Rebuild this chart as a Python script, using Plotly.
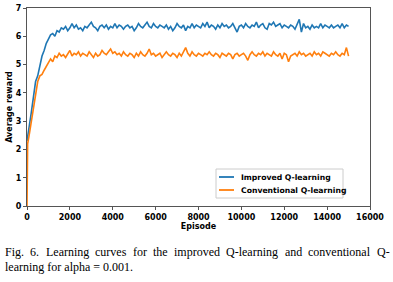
import plotly.graph_objects as go

episodes = [0, 30] + list(range(100, 15001, 100))

improved = [2.3, 2.5, 2.8, 3.3, 3.9, 4.4, 4.6, 5.0, 5.3, 5.5, 5.75, 5.9,
            6.05, 6.1, 6.0, 6.2, 6.15, 6.3, 6.25, 6.35, 6.2, 6.3,
            6.45, 6.3, 6.4, 6.25, 6.3, 6.2, 6.35, 6.3, 6.4, 6.5,
            6.35, 6.3, 6.2, 6.35, 6.4, 6.3, 6.4, 6.25, 6.35, 6.3,
            6.45, 6.3, 6.4, 6.35, 6.25, 6.35, 6.4, 6.3, 6.35, 6.2,
            6.3, 6.45, 6.35, 6.3, 6.4, 6.5, 6.35, 6.3, 6.45, 6.35,
            6.3, 6.4, 6.35, 6.3, 6.4, 6.25, 6.35, 6.2, 6.3, 6.45,
            6.35, 6.3, 6.4, 6.2, 6.35, 6.3, 6.45, 6.3, 6.4, 6.35,
            6.3, 6.45, 6.35, 6.5, 6.3, 6.4, 6.35, 6.25, 6.4, 6.3,
            6.45, 6.35, 6.4, 6.3, 6.35, 6.45, 6.3, 6.15, 6.35, 6.4,
            6.3, 6.45, 6.35, 6.3, 6.4, 6.35, 6.5, 6.3, 6.4, 6.45,
            6.3, 6.25, 6.45, 6.4, 6.5, 6.35, 6.4, 6.45, 6.3, 6.4,
            6.35, 6.3, 6.4, 6.35, 6.25, 6.45, 6.6, 6.15, 6.45, 6.3,
            6.35, 6.25, 6.4, 6.3, 6.35, 6.3, 6.45, 6.3, 6.4, 6.35,
            6.3, 6.4, 6.3, 6.35, 6.4, 6.3, 6.45, 6.3, 6.4, 6.35]

conventional = [0.0, 2.2, 2.5, 3.0, 3.5, 3.9, 4.4, 4.6, 4.65, 4.8, 4.95, 5.05,
                5.2, 5.1, 5.3, 5.25, 5.4, 5.3, 5.35, 5.25, 5.4, 5.5,
                5.3, 5.4, 5.35, 5.45, 5.3, 5.4, 5.35, 5.3, 5.45, 5.35,
                5.25, 5.4, 5.3, 5.35, 5.5, 5.4, 5.35, 5.45, 5.55, 5.4,
                5.45, 5.35, 5.4, 5.3, 5.45, 5.35, 5.3, 5.4, 5.35, 5.25,
                5.4, 5.3, 5.45, 5.35, 5.3, 5.4, 5.55, 5.35, 5.4, 5.3,
                5.35, 5.4, 5.25, 5.35, 5.45, 5.35, 5.3, 5.4, 5.35, 5.25,
                5.4, 5.3, 5.45, 5.6, 5.4, 5.3, 5.45, 5.35, 5.3, 5.4,
                5.35, 5.3, 5.4, 5.35, 5.45, 5.35, 5.3, 5.4, 5.35, 5.25,
                5.4, 5.35, 5.3, 5.4, 5.35, 5.2, 5.35, 5.4, 5.3, 5.35,
                5.4, 5.3, 5.15, 5.35, 5.45, 5.35, 5.3, 5.4, 5.35, 5.45,
                5.3, 5.4, 5.35, 5.3, 5.45, 5.35, 5.3, 5.4, 5.2, 5.4,
                5.35, 5.1, 5.3, 5.35, 5.4, 5.3, 5.45, 5.35, 5.4, 5.3,
                5.35, 5.4, 5.3, 5.45, 5.35, 5.4, 5.3, 5.45, 5.4, 5.35,
                5.3, 5.4, 5.35, 5.45, 5.35, 5.3, 5.4, 5.35, 5.6, 5.3, 5.4]

series_names = ["Improved Q-learning", "Conventional Q-learning"]
series_colors = ["#1f77b4", "#ff7f0e"]

x_ticks = [0, 2000, 4000, 6000, 8000, 10000, 12000, 14000, 16000]
y_ticks = [0, 1, 2, 3, 4, 5, 6, 7]

caption_line1 = ["Fig.", "6.", "Learning", "curves", "for", "the", "improved",
                 "Q-learning", "and", "conventional", "Q-"]
caption_line2 = "learning for alpha = 0.001."

W, H = 393, 282
L, R, T, B = 27, 23, 8, 76
pw = W - L - R
ph = H - T - B


def px_x(px):
    return (px - L) / pw


def px_y(py):
    return (H - B - py) / ph


fig = go.Figure()
for name, ys, col in zip(series_names, [improved, conventional], series_colors):
    fig.add_trace(go.Scatter(x=episodes, y=ys, mode="lines", name=name,
                             line=dict(color=col, width=1.6), showlegend=False))

tickfont = dict(family="DejaVu Sans", size=8, color="black", weight="bold")
axis_common = dict(showgrid=False, zeroline=False, showline=True, linecolor="#555", linewidth=1,
                   mirror=True, ticks="outside", ticklen=3, tickwidth=0.8, tickcolor="#555",
                   tickfont=tickfont, automargin=False)

fig.update_layout(
    width=W, height=H,
    margin=dict(l=L, r=R, t=T, b=B, autoexpand=False),
    paper_bgcolor="white", plot_bgcolor="white",
    xaxis=dict(range=[0, 16000], tickvals=x_ticks, ticktext=[str(v) for v in x_ticks],
               title=dict(text="Episode", font=tickfont, standoff=1), **axis_common),
    yaxis=dict(range=[0, 7], tickvals=y_ticks, ticktext=[str(v) for v in y_ticks],
               title=dict(text="Average reward", font=tickfont, standoff=2), **axis_common),
    showlegend=False,
)

# manual legend (matplotlib-style compact box)
fig.add_shape(type="rect", xref="paper", yref="paper",
              x0=px_x(216), x1=px_x(343), y0=px_y(198), y1=px_y(169),
              line=dict(color="#cccccc", width=1), fillcolor="white", layer="above")
for i, (name, col) in enumerate(zip(series_names, series_colors)):
    yy = px_y(177 + 13 * i)
    fig.add_shape(type="line", xref="paper", yref="paper",
                  x0=px_x(219), x1=px_x(234), y0=yy, y1=yy,
                  line=dict(color=col, width=1.8), layer="above")
    fig.add_annotation(text=name, xref="paper", yref="paper", x=px_x(239), y=yy,
                       xanchor="left", yanchor="middle", showarrow=False,
                       font=dict(family="DejaVu Sans", size=7.7, color="black", weight="bold"))

word_px = [3, 28, 44, 93, 131, 151, 172, 224, 283, 306, 375]
for w, px in zip(caption_line1, word_px):
    fig.add_annotation(text=w, xref="paper", yref="paper",
                       x=px_x(px), y=px_y(252),
                       xanchor="left", yanchor="middle", showarrow=False,
                       font=dict(family="Liberation Serif", size=12, color="black"))
fig.add_annotation(text=caption_line2, xref="paper", yref="paper",
                   x=px_x(3), y=px_y(267),
                   xanchor="left", yanchor="middle", showarrow=False,
                   font=dict(family="Liberation Serif", size=12, color="black"))

fig.write_html("out.html", config={"displayModeBar": False},
               post_script="document.body.style.margin='0';")
